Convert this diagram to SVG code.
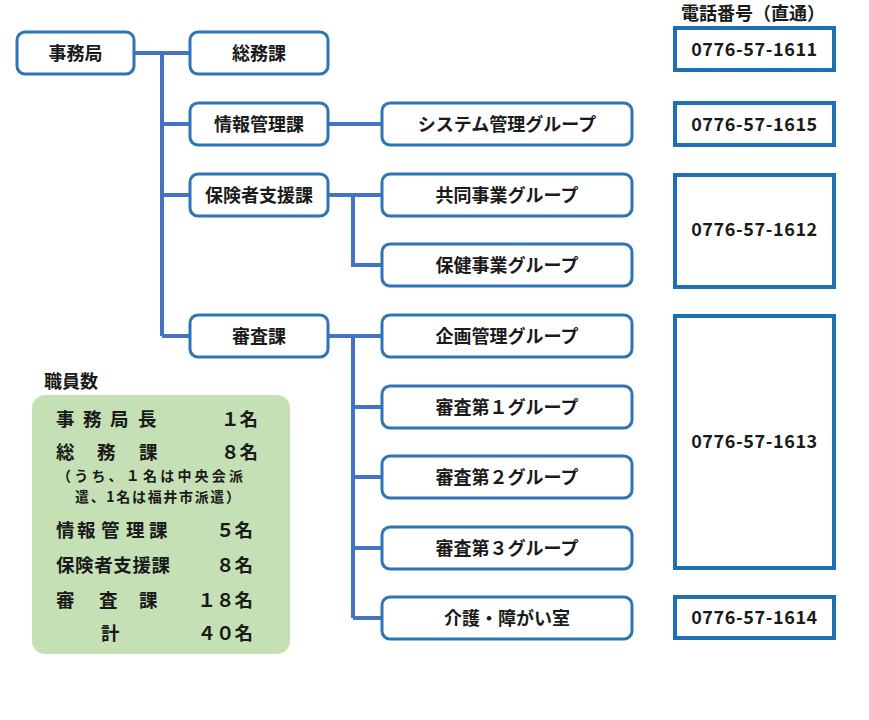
<svg xmlns="http://www.w3.org/2000/svg" width="869" height="720" viewBox="0 0 869 720">
<style>
.node rect{fill:#fff;stroke:#2E75B6;stroke-width:3}
.node text{font-family:"Noto Sans CJK JP","Noto Sans",sans-serif;font-weight:bold;font-size:18px;fill:#1a1a1a;text-anchor:middle}
.phone rect{fill:#fff;stroke:#1F6FB4;stroke-width:4}
.phone text{font-family:"Noto Sans CJK JP","Noto Sans",sans-serif;font-weight:bold;font-size:18px;fill:#1a1a1a;text-anchor:middle;letter-spacing:0.6px}
.conn{stroke:#4472C4;stroke-width:4;fill:none}
.lbl{font-family:"Noto Sans CJK JP","Noto Sans",sans-serif;font-weight:bold;font-size:18px;fill:#1a1a1a}
.st{font-family:"Noto Sans CJK JP","Noto Sans",sans-serif;font-weight:bold;font-size:18.5px;fill:#1a1a1a}
.sm{font-family:"Noto Sans CJK JP","Noto Sans",sans-serif;font-weight:bold;font-size:14px;fill:#1a1a1a}
.num{text-anchor:end}
</style>
<rect width="869" height="720" fill="#fff"/>
<g id="connectors">
<path class="conn" d="M134 53H190M162 53V336M162 124H190M162 195H190M162 336H190"/>
<path class="conn" d="M328 124H382"/>
<path class="conn" d="M328 195H382M353 195V265H382"/>
<path class="conn" d="M328 336H382M353 336V618M353 407H382M353 477H382M353 548H382M353 618H382"/>
</g>
<g id="n-jimukyoku" class="node"><rect x="17" y="32" width="117" height="42" rx="8"/><text x="75.5" y="59.5">事務局</text></g>
<g id="n-somuka" class="node"><rect x="190" y="32" width="138" height="42" rx="8"/><text x="259" y="59.5">総務課</text></g>
<g id="n-johokanrika" class="node"><rect x="190" y="103" width="138" height="42" rx="8"/><text x="259" y="130.5">情報管理課</text></g>
<g id="n-hokenshashienka" class="node"><rect x="190" y="174" width="138" height="42" rx="8"/><text x="259" y="201.5">保険者支援課</text></g>
<g id="n-shinsaka" class="node"><rect x="190" y="315" width="138" height="42" rx="8"/><text x="259" y="342.5">審査課</text></g>
<g id="n-system" class="node"><rect x="382" y="103" width="250" height="42" rx="8"/><text x="507" y="130.5">システム管理グループ</text></g>
<g id="n-kyodo" class="node"><rect x="382" y="174" width="250" height="42" rx="8"/><text x="507" y="201.5">共同事業グループ</text></g>
<g id="n-hoken" class="node"><rect x="382" y="244" width="250" height="42" rx="8"/><text x="507" y="271.5">保健事業グループ</text></g>
<g id="n-kikaku" class="node"><rect x="382" y="315" width="250" height="42" rx="8"/><text x="507" y="342.5">企画管理グループ</text></g>
<g id="n-shinsa1" class="node"><rect x="382" y="386" width="250" height="42" rx="8"/><text x="507" y="413.5">審査第１グループ</text></g>
<g id="n-shinsa2" class="node"><rect x="382" y="456" width="250" height="42" rx="8"/><text x="507" y="483.5">審査第２グループ</text></g>
<g id="n-shinsa3" class="node"><rect x="382" y="527" width="250" height="42" rx="8"/><text x="507" y="554.5">審査第３グループ</text></g>
<g id="n-kaigo" class="node"><rect x="382" y="597" width="250" height="42" rx="8"/><text x="507" y="624.5">介護・障がい室</text></g>
<text class="lbl" x="681" y="20">電話番号（直通）</text>
<g id="p-1611" class="phone"><rect x="675" y="28" width="159" height="42"/><text x="754.5" y="55.5">0776-57-1611</text></g>
<g id="p-1615" class="phone"><rect x="675" y="103" width="159" height="42"/><text x="754.5" y="130.5">0776-57-1615</text></g>
<g id="p-1612" class="phone"><rect x="675" y="175" width="159" height="112"/><text x="754.5" y="235.5">0776-57-1612</text></g>
<g id="p-1613" class="phone"><rect x="675" y="316" width="159" height="252"/><text x="754.5" y="447.5">0776-57-1613</text></g>
<g id="p-1614" class="phone"><rect x="675" y="597" width="159" height="41"/><text x="754.5" y="623.5">0776-57-1614</text></g>
<g id="staff">
<text class="lbl" x="44" y="388">職員数</text>
<rect x="32" y="395" width="258" height="259" rx="13" fill="#C5E0B4"/>
<text class="st" x="56 83 110 138" y="426">事務局長</text>
<text class="st num" x="258" y="426">１名</text>
<text class="st" x="56 97 139" y="459">総務課</text>
<text class="st num" x="258" y="459">８名</text>
<text class="sm" x="57" y="481" textLength="186">（うち、１名は中央会派</text>
<text class="sm" x="75" y="501.5" textLength="165">遣、1名は福井市派遣）</text>
<text class="st" x="56 77 101 126 149" y="537">情報管理課</text>
<text class="st num" x="253" y="537">５名</text>
<text class="st" x="56" y="572" textLength="114">保険者支援課</text>
<text class="st num" x="253" y="572">８名</text>
<text class="st" x="56 99 139" y="607">審査課</text>
<text class="st num" x="253" y="607">１８名</text>
<text class="st" x="101" y="640">計</text>
<text class="st num" x="253" y="640">４０名</text>
</g>
</svg>
